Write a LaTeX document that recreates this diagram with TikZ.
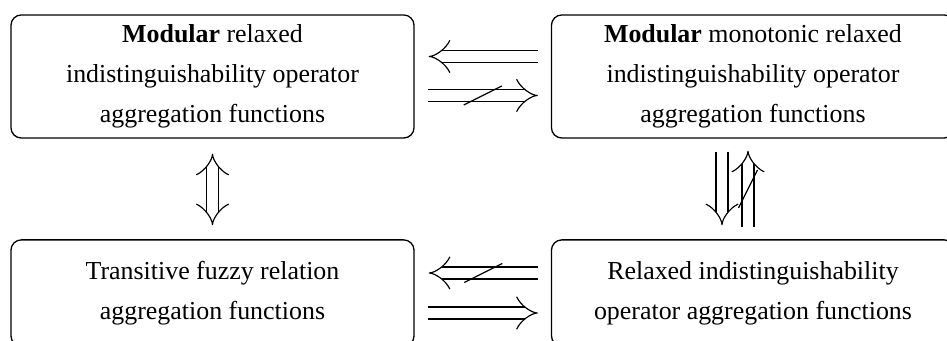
\documentclass[tikz,border=0pt]{standalone}
\usepackage{fontspec}
\setmainfont{Liberation Serif}
\usetikzlibrary{arrows.meta}

\begin{document}
\begin{tikzpicture}[x=0.386pt, y=-0.386pt,
  aggbox/.style={draw, line width=0.5pt, rounded corners=4pt, align=center, minimum width=155.6pt, font=\fontsize{10}{15.4}\selectfont},
  tallbox/.style={aggbox, minimum height=47.5pt},
  lowbox/.style={aggbox, minimum height=41pt},
  imp/.style={double, double distance=4.2pt, line width=0.45pt, -{Implies}},
  impboth/.style={double, double distance=4.2pt, line width=0.45pt, {Implies}-{Implies}},
  negslash/.style={line width=0.5pt}]
\useasboundingbox (0,0) rectangle (947,341);

\node[tallbox] (modrel) at (212.5,76.5) {\textbf{Modular} relaxed\\ indistinguishability operator\\ aggregation functions};
\node[tallbox] (modmono) at (753,76.5) {\textbf{Modular} monotonic relaxed\\ indistinguishability operator\\ aggregation functions};
\node[lowbox] (transfuzzy) at (212.5,293) {Transitive fuzzy relation\\ aggregation functions};
\node[lowbox] (relind) at (753,293) {Relaxed indistinguishability\\ operator aggregation functions};

\draw[imp] ([shift={(-13,-20)}]modmono.west) -- ([shift={(14,-20)}]modrel.east);
\draw[imp] ([shift={(13,19)}]modrel.east) -- coordinate (negtop) ([shift={(-13,19)}]modmono.west);
\draw[negslash] ([shift={(-19,9.5)}]negtop) -- ([shift={(19,-9.5)}]negtop);

\draw[imp] ([shift={(-13,-20)}]relind.west) -- coordinate (negbot) ([shift={(14,-20)}]transfuzzy.east);
\draw[negslash] ([shift={(-19,9.5)}]negbot) -- ([shift={(19,-9.5)}]negbot);
\draw[imp] ([shift={(13,20)}]transfuzzy.east) -- ([shift={(-13,20)}]relind.west);

\draw[impboth] ([shift={(0,15)}]modrel.south) -- ([shift={(0,-14)}]transfuzzy.north);

\draw[imp] ([shift={(-31,13)}]modmono.south) -- ([shift={(-31,-14)}]relind.north);
\draw[imp] ([shift={(-5,-12)}]relind.north) -- coordinate (negright) ([shift={(-5,12)}]modmono.south);
\draw[negslash] ([shift={(-9.5,19)}]negright) -- ([shift={(9.5,-19)}]negright);
\end{tikzpicture}
\end{document}
